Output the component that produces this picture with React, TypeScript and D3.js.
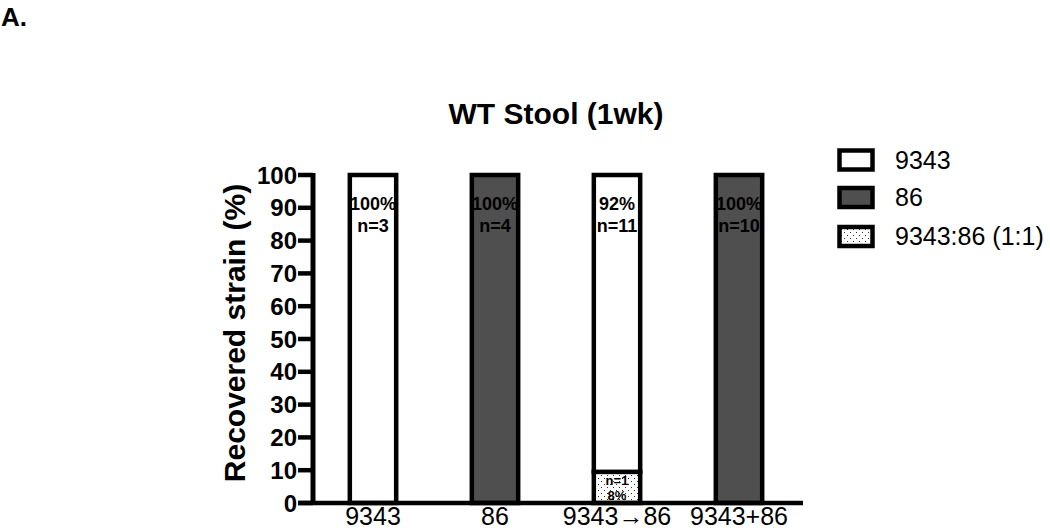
import React from "react";
import * as d3 from "d3";

const categories = ["9343", "86", "9343→86", "9343+86"];
const seriesKeys = ["mix", "s9343", "s86"];
const seriesNames = ["9343", "86", "9343:86 (1:1)"];
const val9343 = [100, 0, 90.5, 0];
const val86 = [0, 100, 0, 100];
const valMix = [0, 0, 9.5, 0];
const pctLabels = ["100%", "100%", "92%", "100%"];
const nLabels = ["n=3", "n=4", "n=11", "n=10"];
const mixLabels = ["", "", "n=1|8%", ""];
const yTicks = d3.range(0, 101, 10);

const W = 1050;
const H = 532;
const FONT = "Liberation Sans, Arial, Helvetica, sans-serif";
const DARK = "#4f4f4f";

export default function App() {
  const rows = categories.map((c, i) => ({
    cat: c,
    mix: valMix[i],
    s9343: val9343[i],
    s86: val86[i],
  }));
  const stacked = d3.stack<any>().keys(seriesKeys)(rows);

  const x = d3
    .scaleBand<string>()
    .domain(categories)
    .range([312, 800])
    .paddingInner(0.62)
    .paddingOuter(0.31);
  const y = d3.scaleLinear().domain([0, 100]).range([503, 175]);
  const axisX = 313;
  const axisEnd = 803;

  const fills: Record<string, string> = {
    mix: "url(#stipple)",
    s9343: "#ffffff",
    s86: DARK,
  };
  const legendFills = ["#ffffff", DARK, "url(#stipple)"];
  const legendY = [160, 197.5, 236.5];

  return (
    <svg
      width={W}
      height={H}
      style={{ position: "absolute", left: 0, top: 0, background: "#fff" }}
      fontFamily={FONT}
    >
      <defs>
        <pattern id="stipple" width="6" height="6" patternUnits="userSpaceOnUse">
          <rect width="6" height="6" fill="#fff" />
          <rect x="1" y="1" width="1" height="1" fill="#333" />
          <rect x="4" y="4" width="1" height="1" fill="#333" />
        </pattern>
      </defs>
      <rect width={W} height={H} fill="#fff" />

      <text x={1} y={26} fontSize={26} fontWeight="bold">A.</text>

      <text
        x={(axisX + axisEnd) / 2 - 2}
        y={124}
        fontSize={30}
        fontWeight="bold"
        textAnchor="middle"
      >
        WT Stool (1wk)
      </text>

      {/* bars */}
      {stacked.map((s) =>
        s.map((d, i) => {
          const v = d[1] - d[0];
          if (v <= 0) return null;
          return (
            <rect
              key={s.key + i}
              x={x(categories[i])!}
              y={y(d[1])}
              width={x.bandwidth()}
              height={y(d[0]) - y(d[1])}
              fill={fills[s.key]}
              stroke="#000"
              strokeWidth={4.5}
            />
          );
        })
      )}

      {/* bar labels */}
      {categories.map((c, i) => {
        const cx = x(c)! + x.bandwidth() / 2;
        return (
          <g key={"lab" + i} fontSize={18} fontWeight="bold" textAnchor="middle">
            <text x={cx} y={y(100) + 35}>{pctLabels[i]}</text>
            <text x={cx} y={y(100) + 57}>{nLabels[i]}</text>
          </g>
        );
      })}
      {categories.map((c, i) => {
        if (!mixLabels[i]) return null;
        const cx = x(c)! + x.bandwidth() / 2;
        const [a, b] = mixLabels[i].split("|");
        return (
          <g key={"mix" + i} fontSize={13} fontWeight="bold" textAnchor="middle">
            <text x={cx} y={y(0) - 18}>{a}</text>
            <text x={cx} y={y(0) - 3}>{b}</text>
          </g>
        );
      })}

      {/* y axis */}
      <line x1={axisX} x2={axisX} y1={y(100) - 2} y2={y(0)} stroke="#000" strokeWidth={5} />
      {yTicks.map((t) => (
        <g key={"t" + t}>
          <line x1={axisX - 15} x2={axisX} y1={y(t)} y2={y(t)} stroke="#000" strokeWidth={4.5} />
          <text
            x={axisX - 16}
            y={y(t) + 8.5}
            fontSize={24}
            fontWeight="bold"
            textAnchor="end"
          >
            {t}
          </text>
        </g>
      ))}
      {/* x axis */}
      <line x1={axisX - 15} x2={axisEnd} y1={y(0)} y2={y(0)} stroke="#000" strokeWidth={4.5} />
      {categories.map((c) => (
        <text
          key={"x" + c}
          x={x(c)! + x.bandwidth() / 2}
          y={525}
          fontSize={25}
          textAnchor="middle"
        >
          {c}
        </text>
      ))}

      <text
        transform={`translate(245, 333) rotate(-90)`}
        fontSize={30}
        fontWeight="bold"
        textAnchor="middle"
      >
        Recovered strain (%)
      </text>

      {/* legend */}
      {seriesNames.map((n, i) => (
        <g key={"lg" + i}>
          <rect
            x={839.5}
            y={legendY[i] - 9.5}
            width={33}
            height={19}
            fill={legendFills[i]}
            stroke="#000"
            strokeWidth={4.5}
          />
          <text x={895} y={legendY[i] + 8.5} fontSize={25}>
            {n}
          </text>
        </g>
      ))}
    </svg>
  );
}
